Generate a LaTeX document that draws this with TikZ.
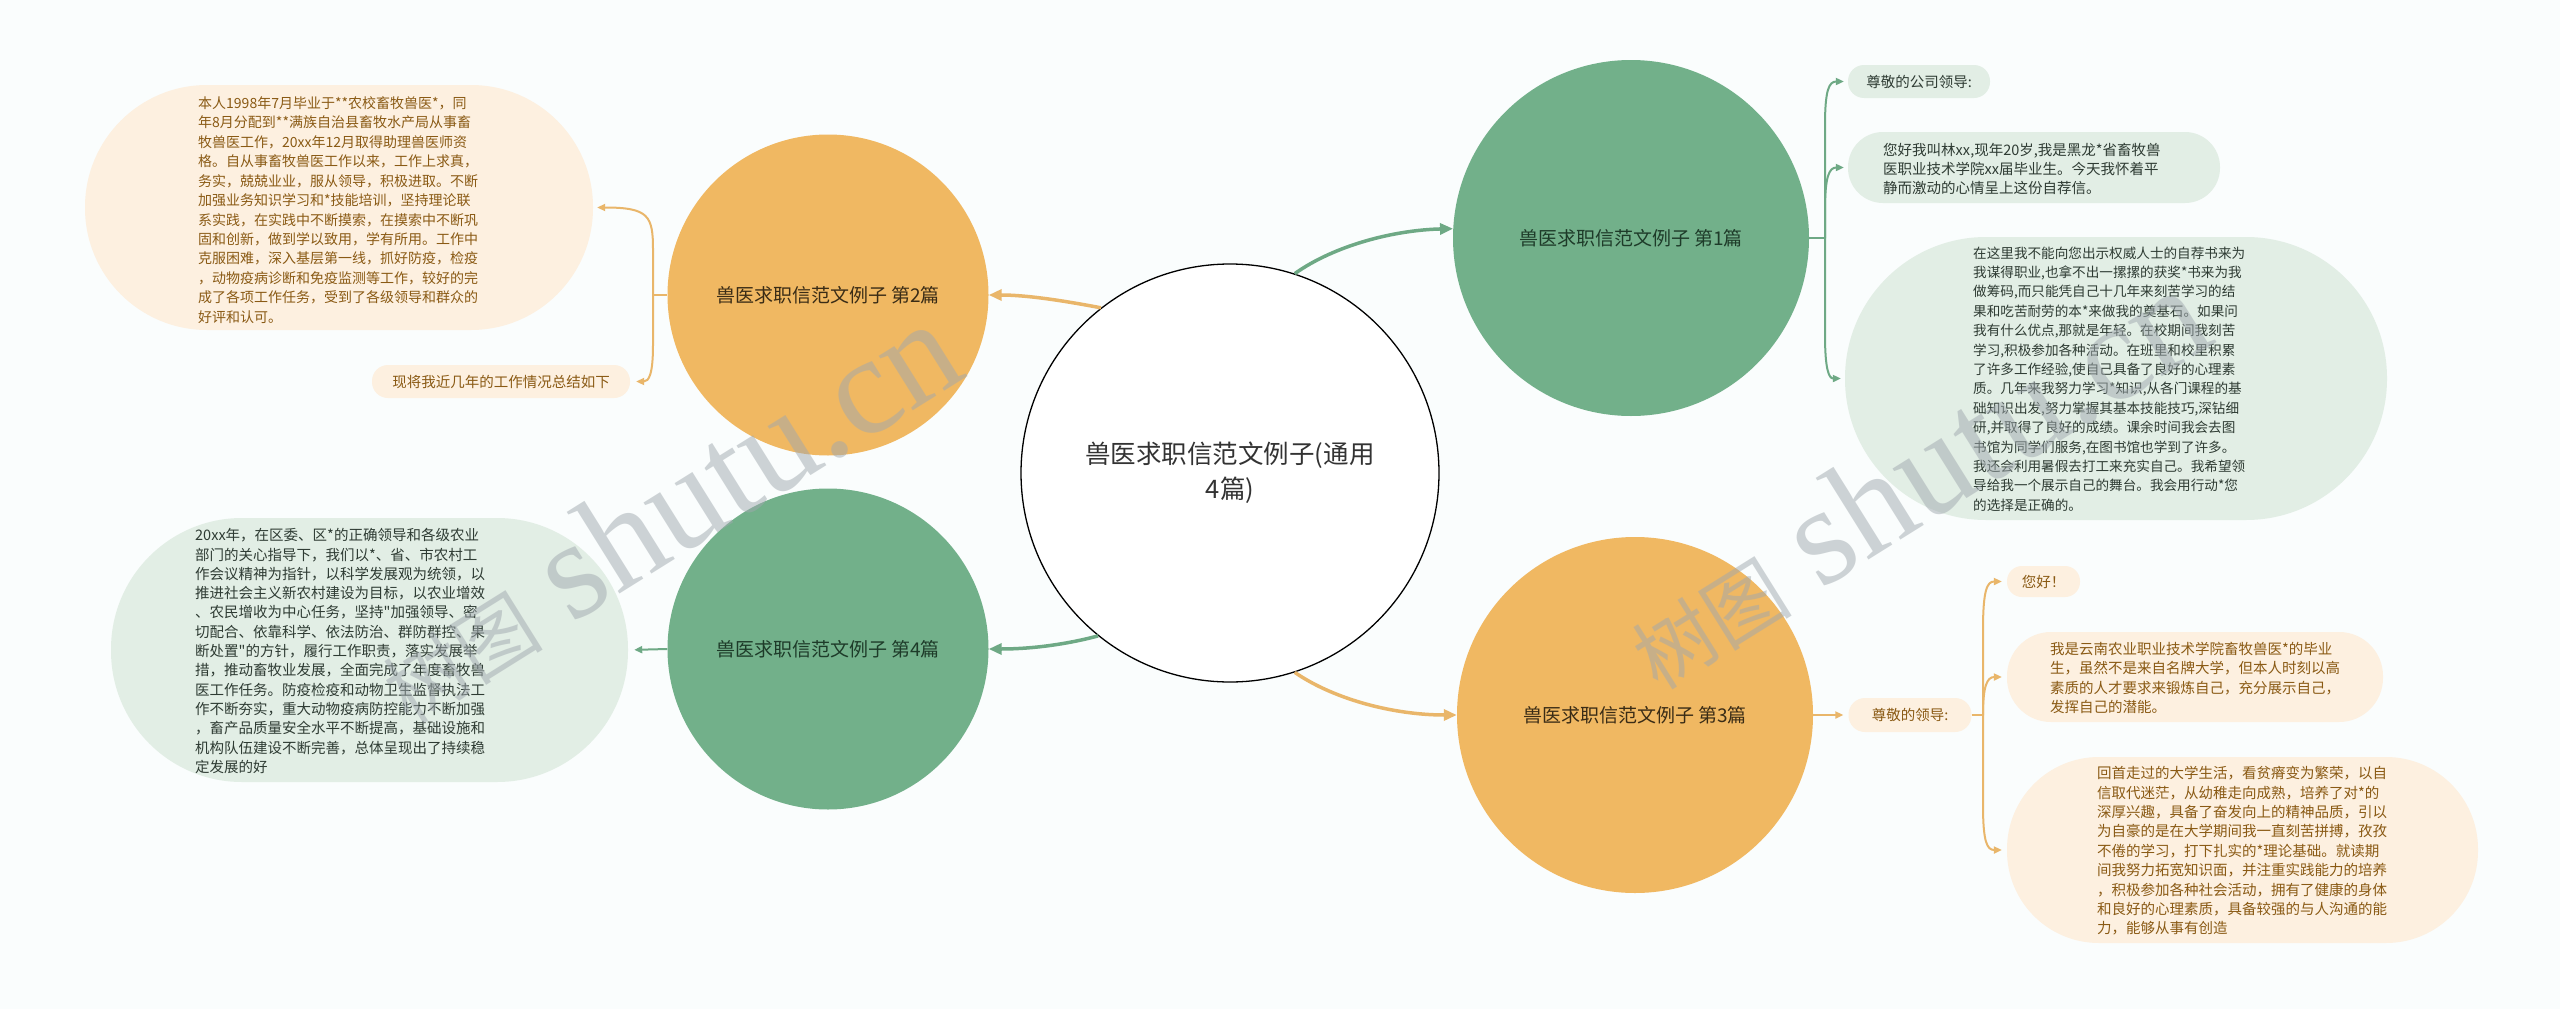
\documentclass[tikz,border=0pt]{standalone}
\usepackage{fontspec}
\setmainfont{Noto Sans CJK SC}
\newfontfamily\wmcjk{Noto Sans CJK SC}
\newfontfamily\wmlat{Liberation Serif}
\usetikzlibrary{arrows.meta}
\definecolor{bg}{HTML}{FAFDFD}
\definecolor{onode}{HTML}{F0B862}
\definecolor{gnode}{HTML}{72B08A}
\definecolor{oleaf}{HTML}{FDF0E0}
\definecolor{gleaf}{HTML}{E2EEE5}
\definecolor{oline}{HTML}{E9B66A}
\definecolor{gline}{HTML}{6EA985}
\definecolor{otext}{HTML}{8A5A14}
\definecolor{gtext}{HTML}{2E3B33}
\definecolor{ontext}{HTML}{3A2C16}
\definecolor{gntext}{HTML}{1E3B29}
\definecolor{ctext}{HTML}{333333}
\definecolor{wmgray}{HTML}{A0A8AE}
\tikzset{
  cnode/.style={circle, draw=black, line width=1.3pt, fill=white, inner sep=0,
    minimum size=418pt, align=center, text=ctext, font=\fontsize{25.5}{35}\selectfont},
  onodes/.style={circle, fill=onode, inner sep=0, text=ontext, font=\fontsize{19}{23}\selectfont},
  gnodes/.style={circle, fill=gnode, inner sep=0, text=gntext, font=\fontsize{19}{23}\selectfont},
  obub/.style={rectangle, fill=oleaf, inner sep=0, text=otext, font=\fontsize{14.5}{17}\selectfont},
  gbub/.style={rectangle, fill=gleaf, inner sep=0, text=gtext, font=\fontsize{14.5}{17}\selectfont},
  otxt/.style={inner sep=0, align=left, anchor=west, text=otext},
  gtxt/.style={inner sep=0, align=left, anchor=west, text=gtext},
  oconn/.style={draw=oline, line width=3.5pt, -{Triangle[length=13pt,width=11pt]}},
  gconn/.style={draw=gline, line width=3.5pt, -{Triangle[length=13pt,width=11pt]}},
  oplain/.style={draw=oline, line width=2pt},
  gplain/.style={draw=gline, line width=2pt},
  oarr/.style={draw=oline, line width=2pt, -{Triangle[length=8pt,width=7pt]}, shorten >=4pt},
  garr/.style={draw=gline, line width=2pt, -{Triangle[length=8pt,width=7pt]}, shorten >=4pt},
  wm/.style={inner sep=0, text=wmgray, text opacity=0.5}
}
\begin{document}
\begin{tikzpicture}[x=1pt,y=-1pt]
\useasboundingbox[fill=bg] (0,0) rectangle (2560,1009);

% main nodes
\node[cnode] (C) at (1230,473) {兽医求职信范文例子(通用\\4篇)};
\node[onodes, minimum size=321pt] (N2) at (828,295) {兽医求职信范文例子 第2篇};
\node[gnodes, minimum size=321pt] (N4) at (828,649) {兽医求职信范文例子 第4篇};
\node[gnodes, minimum size=356pt] (N1) at (1631,238) {兽医求职信范文例子 第1篇};
\node[onodes, minimum size=356pt] (N3) at (1635,715) {兽医求职信范文例子 第3篇};

% leaves of N2
\node[obub, minimum width=508pt, minimum height=245pt, rounded corners=122pt] (L2a) at (339,207.5) {};
\node[otxt, font=\fontsize{14}{19.45}\selectfont] (T2a) at (198,210) {本人1998年7月毕业于**农校畜牧兽医*，同\\
年8月分配到**满族自治县畜牧水产局从事畜\\
牧兽医工作，20xx年12月取得助理兽医师资\\
格。自从事畜牧兽医工作以来，工作上求真，\\
务实，兢兢业业，服从领导，积极进取。不断\\
加强业务知识学习和*技能培训，坚持理论联\\
系实践，在实践中不断摸索，在摸索中不断巩\\
固和创新，做到学以致用，学有所用。工作中\\
克服困难，深入基层第一线，抓好防疫，检疫\\
，动物疫病诊断和免疫监测等工作，较好的完\\
成了各项工作任务，受到了各级领导和群众的\\
好评和认可。};
\node[obub, minimum width=258pt, minimum height=33pt, rounded corners=16pt] (L2b) at (501,381.5) {现将我近几年的工作情况总结如下};

% leaf of N4
\node[gbub, minimum width=517pt, minimum height=264pt, rounded corners=131pt] (L4) at (369.5,650) {};
\node[gtxt, font=\fontsize{14.5}{19.3}\selectfont] (T4) at (195,651) {20xx年，在区委、区*的正确领导和各级农业\\
部门的关心指导下，我们以*、省、市农村工\\
作会议精神为指针，以科学发展观为统领，以\\
推进社会主义新农村建设为目标，以农业增效\\
、农民增收为中心任务，坚持\textquotedbl 加强领导、密\\
切配合、依靠科学、依法防治、群防群控、果\\
断处置\textquotedbl 的方针，履行工作职责，落实发展举\\
措，推动畜牧业发展，全面完成了年度畜牧兽\\
医工作任务。防疫检疫和动物卫生监督执法工\\
作不断夯实，重大动物疫病防控能力不断加强\\
，畜产品质量安全水平不断提高，基础设施和\\
机构队伍建设不断完善，总体呈现出了持续稳\\
定发展的好};

% leaves of N1
\node[gbub, minimum width=142pt, minimum height=33pt, rounded corners=16pt] (L1a) at (1919,81.5) {尊敬的公司领导:};
\node[gbub, minimum width=372pt, minimum height=71pt, rounded corners=35pt] (L1b) at (2034,167.5) {};
\node[gtxt, font=\fontsize{14.5}{19}\selectfont] (T1b) at (1883,169) {您好我叫林xx,现年20岁,我是黑龙*省畜牧兽\\
医职业技术学院xx届毕业生。今天我怀着平\\
静而激动的心情呈上这份自荐信。};
\node[gbub, minimum width=542pt, minimum height=283pt, rounded corners=141pt] (L1c) at (2116,378.5) {};
\node[gtxt, font=\fontsize{13.6}{19.4}\selectfont] (T1c) at (1973,379) {在这里我不能向您出示权威人士的自荐书来为\\
我谋得职业,也拿不出一摞摞的获奖*书来为我\\
做筹码,而只能凭自己十几年来刻苦学习的结\\
果和吃苦耐劳的本*来做我的奠基石。如果问\\
我有什么优点,那就是年轻。在校期间我刻苦\\
学习,积极参加各种活动。在班里和校里积累\\
了许多工作经验,使自己具备了良好的心理素\\
质。几年来我努力学习*知识,从各门课程的基\\
础知识出发,努力掌握其基本技能技巧,深钻细\\
研,并取得了良好的成绩。课余时间我会去图\\
书馆为同学们服务,在图书馆也学到了许多。\\
我还会利用暑假去打工来充实自己。我希望领\\
导给我一个展示自己的舞台。我会用行动*您\\
的选择是正确的。};

% leaves of N3
\node[obub, minimum width=123pt, minimum height=34pt, rounded corners=16.5pt] (L3) at (1910,715) {尊敬的领导:};
\node[obub, minimum width=73pt, minimum height=31pt, rounded corners=15pt] (L3a) at (2043.5,581.5) {您好！};
\node[obub, minimum width=376pt, minimum height=90pt, rounded corners=44pt] (L3b) at (2195,677) {};
\node[otxt, font=\fontsize{14.5}{19.2}\selectfont] (T3b) at (2050,678) {我是云南农业职业技术学院畜牧兽医*的毕业\\
生，虽然不是来自名牌大学，但本人时刻以高\\
素质的人才要求来锻炼自己，充分展示自己，\\
发挥自己的潜能。};
\node[obub, minimum width=471pt, minimum height=186pt, rounded corners=92pt] (L3c) at (2242.5,850) {};
\node[otxt, font=\fontsize{14.5}{19.4}\selectfont] (T3c) at (2097,851) {回首走过的大学生活，看贫瘠变为繁荣，以自\\
信取代迷茫，从幼稚走向成熟，培养了对*的\\
深厚兴趣，具备了奋发向上的精神品质，引以\\
为自豪的是在大学期间我一直刻苦拼搏，孜孜\\
不倦的学习，打下扎实的*理论基础。就读期\\
间我努力拓宽知识面，并注重实践能力的培养\\
，积极参加各种社会活动，拥有了健康的身体\\
和良好的心理素质，具备较强的与人沟通的能\\
力，能够从事有创造};

% junctions
\coordinate (J1) at (1825,238);
\coordinate (J2) at (653,295);
\coordinate (J3) at (1983,715);

% central connectors
\draw[oconn] (C.128) .. controls (1060,300) and (1025,295) .. (N2.east);
\draw[gconn] (C.72) .. controls (1335,245) and (1395,230) .. (N1.177);
\draw[gconn] (C.231) .. controls (1060,646) and (1025,649) .. (N4.east);
\draw[oconn] (C.288) .. controls (1335,700) and (1395,715) .. (N3.west);

% N1 branch
\draw[gplain] (N1.east) -- (J1);
\draw[garr] (J1) -- (1825,125) .. controls (1825,90) and (1829,81.5) .. (L1a.west);
\draw[garr] (J1) -- (1825,210) .. controls (1825,177) and (1829,167.5) .. (L1b.west);
\draw[garr] (J1) -- (1825,335) .. controls (1825,370) and (1829,378.5) .. (L1c.west);

% N2 branch
\draw[oplain] (N2.west) -- (J2);
\draw[oarr] (J2) -- (653,250) .. controls (653,216) and (649,207.5) .. (L2a.east);
\draw[oarr, shorten >=6pt] (J2) -- (653,345) .. controls (653,374) and (649,381.5) .. (L2b.east);

% N4 branch
\draw[garr, shorten >=6pt] (N4.west) -- (L4.east);

% N3 branch
\draw[oarr, shorten >=5pt] (N3.east) -- (L3.west);
\draw[oplain] (L3.east) -- (J3);
\draw[oarr, shorten >=5pt] (J3) -- (1983,630) .. controls (1983,590) and (1987,581.5) .. (L3a.west);
\draw[oarr, shorten >=5pt] (J3) .. controls (1983,686) and (1987,677) .. (L3b.west);
\draw[oarr, shorten >=5pt] (J3) -- (1983,805) .. controls (1983,842) and (1987,850) .. (L3c.west);

% watermarks
\node[wm, rotate=32] (W1) at (666,512) {{\wmcjk\fontsize{80}{80}\selectfont 树图}\hspace{30pt}{\wmlat\fontsize{140}{140}\selectfont shutu.cn}};
\node[wm, rotate=32] (W2) at (1915,478) {{\wmcjk\fontsize{80}{80}\selectfont 树图}\hspace{30pt}{\wmlat\fontsize{140}{140}\selectfont shutu.cn}};
\end{tikzpicture}
\end{document}
